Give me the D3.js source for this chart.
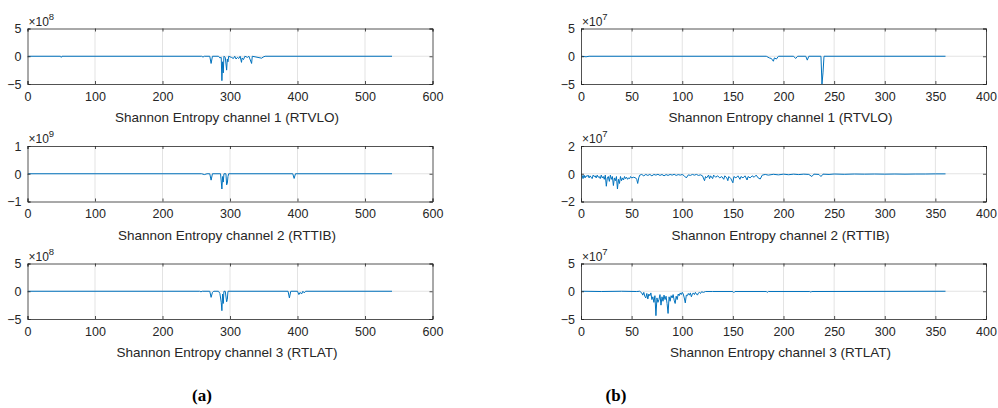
<!DOCTYPE html>
<html><head><meta charset="utf-8">
<script src="https://cdn.jsdelivr.net/npm/d3@7"></script>
<style>body{margin:0;background:#fff}svg{display:block}</style>
</head><body>
<svg id="c" width="998" height="408"></svg>
<script>
// ---- data ----
const xTicksA = [0,100,200,300,400,500,600];
const xTicksB = [0,50,100,150,200,250,300,350,400];
const labels = ["Shannon Entropy channel 1 (RTVLO)","Shannon Entropy channel 2 (RTTIB)","Shannon Entropy channel 3 (RTLAT)"];
const yTicksA = [[-5,0,5],[-1,0,1],[-5,0,5]];
const yTicksB = [[-5,0,5],[-2,0,2],[-5,0,5]];
const expA = [8,9,8];
const expB = [7,7,7];
const captions = ["(a)","(b)"];

const a1 = [[1,0],[49,0],[50,-0.2],[51,0],[258,0],[260,-0.15],[262,0],[270,0],[272,-1.3],[274,0],[283,0],[285,-0.3],[287,-0.2],[288,-4.4],[289,-1.0],[290,-3.0],[291,0],[293,-0.2],[295,-2.5],[296,-0.5],[297,-1.0],[298,0],[302,-0.2],[305,-0.4],[307,0],[309,-0.5],[311,-0.2],[313,-0.4],[315,0],[317,-1.1],[318,-0.3],[320,-0.6],[322,0],[326,-0.2],[328,0],[332,-1.3],[333,0],[347,-0.35],[349,-0.15],[352,0],[540,0]];
const a2 = [[1,0],[258,0],[262,-0.03],[266,0],[270,0],[272,-0.23],[274,0],[286,0],[288,-0.55],[289,-0.1],[290,-0.3],[291,0],[294,0],[295,-0.4],[296,-0.35],[297,-0.1],[298,0],[393,0],[395,-0.17],[397,0],[540,0]];
const a3 = [[1,0],[255,0],[257,-0.1],[259,0],[270,0],[272,-1.1],[274,-0.2],[276,0],[283,0],[285,-0.4],[287,-2.0],[288,-3.5],[289,-0.5],[290,-2.2],[291,0],[293,0],[295,-1.9],[296,-1.5],[297,0],[386,0],[388,-1.2],[390,0],[400,0],[402,-0.6],[404,-0.2],[406,-0.5],[408,0],[410,-0.3],[412,0],[540,0]];
const b1 = [[1,0],[5,-0.1],[8,0],[183,0],[186,-0.3],[188,-0.4],[190,-0.9],[191,-0.3],[193,-0.5],[195,0],[210,0],[212,-0.4],[214,0],[222,0],[223.5,-0.7],[225,0],[237,0],[238,-5],[239,-3],[240,0],[360,0]];
const b2 = [[1,-0.1],[2,-0.35],[3,-0.1],[4,-0.3],[5,-0.15],[6,-0.2],[7,-0.1],[8,-0.3],[9,-0.15],[10,-0.25],[11,-0.35],[12,-0.1],[13,-0.2],[14,-0.15],[15,-0.3],[16,-0.1],[17,-0.25],[18,-0.2],[19,-0.35],[20,-0.1],[21,-0.3],[22,-0.2],[23,-0.4],[24,-0.1],[25,-0.9],[26,-0.3],[27,-0.2],[28,-0.55],[29,-0.1],[30,-0.4],[31,-0.2],[32,-0.85],[33,-0.3],[34,-0.5],[35,-0.2],[36,-1.1],[37,-0.4],[38,-0.7],[39,-0.2],[40,-0.5],[41,-0.3],[42,-0.45],[43,-0.2],[44,-0.35],[45,-0.25],[46,-0.4],[47,-0.3],[48,-0.35],[49,-0.2],[50,-0.3],[52,-0.25],[54,-0.3],[55,-0.4],[56,-0.7],[57,-0.3],[58,-0.1],[60,-0.05],[62,-0.15],[64,-0.05],[66,-0.12],[68,-0.05],[70,-0.15],[72,-0.05],[74,-0.1],[76,-0.04],[78,-0.12],[80,-0.05],[82,-0.15],[84,-0.06],[86,-0.12],[88,-0.05],[90,-0.1],[92,-0.04],[94,-0.12],[96,-0.06],[98,-0.1],[100,-0.05],[102,-0.15],[104,-0.3],[106,-0.08],[108,-0.12],[110,-0.05],[112,-0.1],[114,-0.05],[116,-0.12],[118,-0.08],[120,-0.15],[122,-0.5],[123,-0.2],[124,-0.3],[126,-0.1],[127,-0.35],[128,-0.15],[130,-0.35],[131,-0.1],[133,-0.25],[135,-0.15],[137,-0.3],[139,-0.2],[141,-0.4],[142,-0.15],[144,-0.3],[145,-0.5],[146,-0.2],[148,-0.35],[150,-0.65],[151,-0.2],[153,-0.3],[155,-0.15],[157,-0.4],[158,-0.2],[160,-0.3],[162,-0.15],[164,-0.45],[165,-0.2],[167,-0.3],[169,-0.15],[171,-0.25],[173,-0.1],[175,-0.3],[177,-0.38],[179,-0.1],[182,-0.05],[185,-0.1],[190,-0.04],[195,-0.08],[200,-0.03],[205,-0.07],[210,-0.03],[215,-0.06],[220,-0.03],[225,-0.05],[228,-0.2],[230,-0.03],[235,-0.05],[237,-0.2],[239,-0.03],[245,-0.05],[250,-0.02],[260,-0.04],[270,-0.02],[280,-0.03],[290,-0.02],[300,-0.03],[310,-0.02],[320,-0.03],[330,-0.02],[340,-0.02],[350,-0.01],[360,-0.01]];
const b3 = [[1,0],[20,-0.05],[40,0],[55,-0.05],[58,0],[60,-0.3],[61,-0.7],[62,-0.2],[63,-0.9],[64,-1.2],[65,-0.4],[66,-1.4],[67,-0.5],[68,-0.8],[69,-0.3],[70,-1.5],[71,-1.0],[72,-2.0],[73,-0.8],[74,-4.4],[75,-1.2],[76,-2.0],[77,-1.5],[78,-0.6],[79,-2.5],[80,-1.0],[81,-1.8],[82,-0.7],[83,-1.5],[84,-0.9],[85,-2.2],[86,-4.0],[87,-1.0],[88,-1.8],[89,-0.8],[90,-1.2],[91,-0.6],[92,-1.6],[93,-2.2],[94,-0.9],[95,-1.5],[96,-0.5],[97,-0.8],[98,-0.3],[99,-0.6],[100,-0.2],[101,-0.5],[102,-1.2],[103,-2.1],[104,-0.7],[105,-0.8],[106,-0.4],[107,-0.7],[108,-0.3],[109,-1.0],[110,-0.5],[111,-0.3],[112,-0.6],[113,-0.2],[114,-0.5],[115,-0.7],[116,-0.3],[117,-0.2],[118,-0.4],[119,-0.1],[121,-0.2],[123,-0.05],[130,-0.05],[150,-0.05],[151,-0.25],[152,-0.05],[183,-0.05],[184,-0.2],[185,-0.05],[226,-0.05],[227,-0.15],[228,-0.05],[360,0]];

// ---- layout ----
const svg = d3.select("#c");
const tops = [28.5, 146, 263.5];
const H = 55.5;
const cols = [
  {x0:27.5, x1:432.5, dom:[0,600], ticks:xTicksA, yt:yTicksA, ex:expA, series:[a1,a2,a3]},
  {x0:581, x1:986, dom:[0,400], ticks:xTicksB, yt:yTicksB, ex:expB, series:[b1,b2,b3]}
];
const ink = "#262626";
const font = "'Liberation Sans', Arial, sans-serif";

cols.forEach((c, ci) => {
  const x = d3.scaleLinear().domain(c.dom).range([c.x0, c.x1]);
  for (let r = 0; r < 3; r++) {
    const t = tops[r], b = t + H;
    const yt = c.yt[r];
    const y = d3.scaleLinear().domain([yt[0], yt[2]]).range([b, t]);
    const g = svg.append("g");
    const cid = "clip" + ci + r;
    svg.append("clipPath").attr("id", cid).append("rect")
      .attr("x", c.x0).attr("y", t).attr("width", c.x1 - c.x0).attr("height", H);
    // grid
    g.selectAll(".gx").data(c.ticks.slice(1, -1)).join("line")
      .attr("x1", d => x(d)).attr("x2", d => x(d)).attr("y1", t).attr("y2", b)
      .attr("stroke", "#e3e3e3").attr("stroke-width", 1);
    g.append("line").attr("x1", c.x0).attr("x2", c.x1).attr("y1", y(0)).attr("y2", y(0))
      .attr("stroke", "#e3e3e3").attr("stroke-width", 1);
    // line
    g.append("path").datum(c.series[r])
      .attr("clip-path", `url(#${cid})`)
      .attr("fill", "none").attr("stroke", "#0072BD").attr("stroke-width", 1)
      .attr("stroke-linejoin", "round")
      .attr("d", d3.line().x(d => x(d[0])).y(d => y(d[1])));
    // axes
    const xa = d3.axisBottom(x).tickValues(c.ticks).tickSize(-3).tickPadding(8).tickFormat(d3.format("d"));
    const gx = g.append("g").attr("transform", `translate(0,${b})`).call(xa);
    const xt = d3.axisTop(x).tickValues(c.ticks).tickSize(-3).tickFormat("");
    const gxt = g.append("g").attr("transform", `translate(0,${t})`).call(xt);
    const ya = d3.axisLeft(y).tickValues(yt).tickSize(-3).tickPadding(6).tickFormat(d3.format("d"));
    const gy = g.append("g").attr("transform", `translate(${c.x0},0)`).call(ya);
    const yr = d3.axisRight(y).tickValues(yt).tickSize(-3).tickFormat("");
    const gyr = g.append("g").attr("transform", `translate(${c.x1},0)`).call(yr);
    [gx, gxt, gy, gyr].forEach(a => {
      a.select(".domain").attr("stroke", ink).attr("stroke-width", 0.8);
      a.selectAll(".tick line").attr("stroke", ink).attr("stroke-width", 0.8);
      a.selectAll("text").attr("fill", ink).attr("font-family", font).attr("font-size", 12.5);
    });
    gx.selectAll("text").attr("dy", "0.71em");
    gy.selectAll("text").attr("dy", "0.35em");
    // exponent
    const et = g.append("text").attr("x", c.x0 + 1).attr("y", t - 3)
      .attr("font-family", font).attr("font-size", 12).attr("fill", ink);
    et.append("tspan").text("\u00d710");
    et.append("tspan").attr("dy", -6).attr("font-size", 9.5).text(c.ex[r]);
    // xlabel
    g.append("text").attr("x", (c.x0 + c.x1) / 2 - 3).attr("y", b + 38)
      .attr("text-anchor", "middle").attr("font-family", font).attr("font-size", 13.5)
      .attr("fill", ink).text(labels[r]);
  }
});
// captions
[[202, captions[0]], [616, captions[1]]].forEach(([cx, s]) => {
  svg.append("text").attr("x", cx).attr("y", 401).attr("text-anchor", "middle")
    .attr("font-family", "'Liberation Serif', 'Times New Roman', serif")
    .attr("font-weight", "bold").attr("font-size", 17).attr("fill", "#000").text(s);
});
</script>
</body></html>
